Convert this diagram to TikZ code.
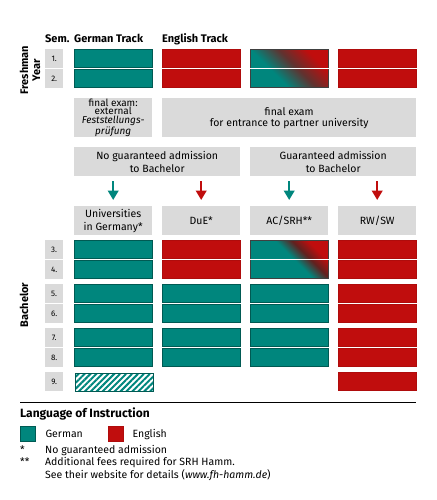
\documentclass[tikz,border=0pt]{standalone}
\usepackage{fontspec}
\setmainfont{Fira Sans}
\usepackage{tikz}
\usetikzlibrary{arrows.meta, positioning, patterns.meta}

\definecolor{deteal}{RGB}{0,134,125}
\definecolor{detealdark}{RGB}{0,90,83}
\definecolor{enred}{RGB}{192,13,13}
\definecolor{enreddark}{RGB}{175,12,12}
\definecolor{boxgray}{RGB}{218,218,218}

\pgfdeclarehorizontalshading{mixearly}{100bp}{color(0bp)=(deteal); color(38bp)=(deteal); color(55bp)=(black!35!deteal!50!enred); color(72bp)=(enred); color(100bp)=(enred)}
\pgfdeclarehorizontalshading{mixlate}{100bp}{color(0bp)=(deteal); color(53bp)=(deteal); color(63bp)=(black!60!deteal!50!enred); color(73bp)=(enred); color(100bp)=(enred)}

\begin{document}
\begin{tikzpicture}[x=1pt, y=-1pt,
    cell/.style={rectangle, anchor=north west, minimum width=78pt, minimum height=18.4pt, inner sep=0pt, line width=0.5pt},
    de/.style={cell, fill=deteal, draw=detealdark},
    en/.style={cell, fill=enred, draw=enreddark},
    sem/.style={rectangle, anchor=north west, minimum width=18pt, minimum height=18.4pt, inner sep=0pt, fill=boxgray, font=\fontsize{8}{9}\selectfont},
    infobox/.style={rectangle, anchor=north west, fill=boxgray, inner sep=0pt, align=center, font=\fontsize{10.5}{13}\selectfont},
    head/.style={anchor=base west, inner sep=0pt, font=\fontsize{11}{12}\selectfont\bfseries},
    dearrow/.style={draw=deteal, line width=2.4pt, -{Triangle[width=10.5pt, length=9.5pt]}, shorten <=5pt, shorten >=6pt},
    enarrow/.style={dearrow, draw=enred},
    plain/.style={anchor=west, inner sep=0pt, text height=7.6pt, text depth=0pt, font=\fontsize{10.5}{13}\selectfont}
]
    \useasboundingbox (0,0) rectangle (436,500);

    % Headings
    \node[head] (sem_head) at (45,43) {Sem.};
    \node[head] (de_head) at (74,43) {German Track};
    \node[head] (en_head) at (162,43) {English Track};
    \node[head, anchor=center, rotate=90, align=center] (freshman) at (30,70) {Freshman\\Year};
    \node[head, anchor=center, rotate=90] (bachelor) at (24,305) {Bachelor};

    % Semesters
    \foreach \n/\y in {1/49, 2/69, 3/240, 4/260, 5/284, 6/304, 7/328, 8/348, 9/372}
        \node[sem] (sem\n) at (45,\y) {\n.};

    % German track column
    \foreach \n/\y in {1/49, 2/69, 3/240, 4/260, 5/284, 6/304, 7/328, 8/348}
        \node[de] (de\n) at (74,\y) {};
    \node[cell, pattern={Lines[angle=45, distance=4.2pt, line width=2pt]}, pattern color=deteal, draw=detealdark] (de9) at (74,372) {};

    % DuE column
    \foreach \n/\y in {1/49, 2/69, 3/240, 4/260}
        \node[en] (due\n) at (162,\y) {};
    \foreach \n/\y in {5/284, 6/304, 7/328, 8/348}
        \node[de] (due\n) at (162,\y) {};

    % AC/SRH column
    \node[cell, minimum height=38.4pt, shading=mixearly, shading angle=45, draw=black!75] (acsrh12) at (250,49) {};
    \draw[white, line width=1.2pt] (acsrh12.west) -- (acsrh12.east);
    \node[cell, minimum height=38.4pt, shading=mixlate, shading angle=45, draw=black!75] (acsrh34) at (250,240) {};
    \draw[white, line width=1.2pt] (acsrh34.west) -- (acsrh34.east);
    \foreach \n/\y in {5/284, 6/304, 7/328, 8/348}
        \node[de] (acsrh\n) at (250,\y) {};

    % RW/SW column
    \foreach \n/\y in {1/49, 2/69, 3/240, 4/260, 5/284, 6/304, 7/328, 8/348, 9/372}
        \node[en] (rwsw\n) at (338,\y) {};

    % Grey boxes
    \node[infobox, minimum width=78pt, minimum height=39pt, font=\fontsize{10}{8.5}\selectfont] (exam_de) at (74,98) {final exam:\\external\\\textit{Feststellungs-}\\\textit{prüfung}};
    \node[infobox, minimum width=254pt, minimum height=39pt, font=\fontsize{10.5}{11}\selectfont] (exam_en) at (162,98) {final exam\\for entrance to partner university};
    \node[infobox, minimum width=166pt, minimum height=29pt] (no_adm) at (74,147) {No guaranteed admission\\to Bachelor};
    \node[infobox, minimum width=166pt, minimum height=29pt] (yes_adm) at (250,147) {Guaranteed admission\\to Bachelor};
    \node[infobox, minimum width=78pt, minimum height=29pt] (uni_de) at (74,206) {Universities\\in Germany*};
    \node[infobox, minimum width=78pt, minimum height=29pt] (due) at (162,206) {DuE*};
    \node[infobox, minimum width=78pt, minimum height=29pt] (acsrh) at (250,206) {AC/SRH**};
    \node[infobox, minimum width=78pt, minimum height=29pt] (rwsw) at (338,206) {RW/SW};

    % Connectors
    \draw[dearrow] (uni_de.north |- no_adm.south) -- (uni_de.north);
    \draw[enarrow] (due.north |- no_adm.south) -- (due.north);
    \draw[dearrow] (acsrh.north |- yes_adm.south) -- (acsrh.north);
    \draw[enarrow] (rwsw.north |- yes_adm.south) -- (rwsw.north);

    % Legend
    \draw[line width=0.8pt] (20,402) -- (416,402);
    \node[anchor=base west, inner sep=0pt, font=\fontsize{12}{14}\selectfont\bfseries] (lang_head) at (20,417) {Language of Instruction};
    \node[rectangle, anchor=north west, inner sep=0pt, minimum size=15pt, fill=deteal, draw=detealdark] (key_de) at (20,426) {};
    \node[plain, right=10pt of key_de] (key_de_text) {German};
    \node[rectangle, anchor=north west, inner sep=0pt, minimum size=15pt, fill=enred, draw=enreddark] (key_en) at (108,426) {};
    \node[plain, right=9pt of key_en] (key_en_text) {English};
    \node[plain] (fn1_mark) at (20,450) {*};
    \node[plain] (fn1) at (45,450) {No guaranteed admission};
    \node[plain] (fn2_mark) at (20,462) {**};
    \node[plain] (fn2) at (45,462) {Additional fees required for SRH Hamm.};
    \node[plain] (fn3) at (45,475) {See their website for details (\textit{www.fh-hamm.de})};
\end{tikzpicture}
\end{document}
